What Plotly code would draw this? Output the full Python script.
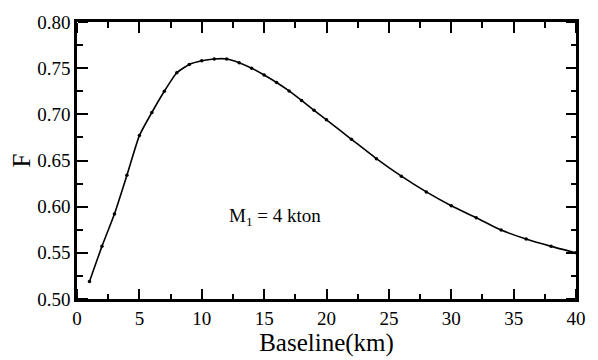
import plotly.graph_objects as go

# Baseline distance (km) and F values
baseline_km = list(range(1, 21)) + list(range(22, 41, 2))
f_values = [0.519, 0.557, 0.592, 0.634, 0.677, 0.702, 0.725, 0.745, 0.754, 0.758,
            0.760, 0.760, 0.756, 0.750, 0.7426, 0.7345, 0.7253, 0.715, 0.7044, 0.694,
            0.673, 0.652, 0.633, 0.616, 0.601, 0.588, 0.5747, 0.5649, 0.557, 0.550]

x_range = [0, 40]
y_range = [0.50, 0.80]
x_step, x_minor = 5, 2.5
y_step, y_minor = 0.05, 0.025

FONT = "Liberation Serif"
TICK_FONT = dict(family=FONT, size=19, color="black")
TITLE_FONT = dict(family=FONT, size=25, color="black")

fig = go.Figure()
fig.add_trace(go.Scatter(
    x=baseline_km, y=f_values,
    mode="lines+markers",
    line=dict(color="black", width=1.6, shape="spline", smoothing=0.5),
    marker=dict(color="black", size=3.5),
    showlegend=False,
))

# Transparent copies of the curve so the tick-only overlay axes get drawn
for xa, ya in (("x2", "y2"), ("x3", "y3")):
    fig.add_trace(go.Scatter(
        x=baseline_km, y=f_values, xaxis=xa, yaxis=ya,
        mode="markers", marker=dict(opacity=0, size=1),
        hoverinfo="skip", showlegend=False,
    ))

# Tick-only axes: placed on the opposite edge so their "outside" ticks point into the frame
def tick_axis(rng, step, minor, side, position, overlay):
    return dict(
        range=rng, tickmode="linear", tick0=rng[0], dtick=step,
        overlaying=overlay, anchor="free", position=position, side=side,
        showticklabels=False, showline=False, showgrid=False, zeroline=False,
        ticks="outside", ticklen=10, tickwidth=2, tickcolor="black",
        minor=dict(ticks="outside", ticklen=5, tickwidth=2, tickcolor="black",
                   tick0=rng[0], dtick=minor, showgrid=False),
        layer="above traces", fixedrange=True,
    )

main_ticks = dict(
    ticks="inside", ticklen=10, tickwidth=2, tickcolor="black",
    showline=True, linecolor="black", linewidth=2.5, mirror="allticks",
    showgrid=False, zeroline=False, layer="above traces",
    tickfont=TICK_FONT,
)

fig.update_layout(
    width=598, height=360,
    margin=dict(l=77, r=19, t=13, b=51),
    font=dict(family=FONT, color="black"),
    plot_bgcolor="rgba(0,0,0,0)", paper_bgcolor="white",
    xaxis=dict(
        range=x_range, tickmode="linear", tick0=0, dtick=x_step,
        minor=dict(ticks="inside", ticklen=5, tickwidth=2, tickcolor="black",
                   tick0=0, dtick=x_minor, showgrid=False),
        title=dict(text="Baseline(km)", font=TITLE_FONT, standoff=2),
        **main_ticks,
    ),
    yaxis=dict(
        range=y_range, tickmode="linear", tick0=0.5, dtick=y_step, tickformat=".2f",
        minor=dict(ticks="inside", ticklen=5, tickwidth=2, tickcolor="black",
                   tick0=0.5, dtick=y_minor, showgrid=False),
        title=dict(text="F", font=TITLE_FONT, standoff=0),
        **main_ticks,
    ),
    xaxis2=tick_axis(x_range, x_step, x_minor, "top", 0, "x"),
    xaxis3=tick_axis(x_range, x_step, x_minor, "bottom", 1, "x"),
    yaxis2=tick_axis(y_range, y_step, y_minor, "right", 0, "y"),
    yaxis3=tick_axis(y_range, y_step, y_minor, "left", 1, "y"),
)

fig.add_annotation(
    x=12.0, y=0.589, xref="x", yref="y",
    text="M<sub>1</sub> = 4 kton", showarrow=False,
    xanchor="left", yanchor="middle",
    font=dict(family=FONT, size=19, color="black"),
)

fig.write_html("out.html")
